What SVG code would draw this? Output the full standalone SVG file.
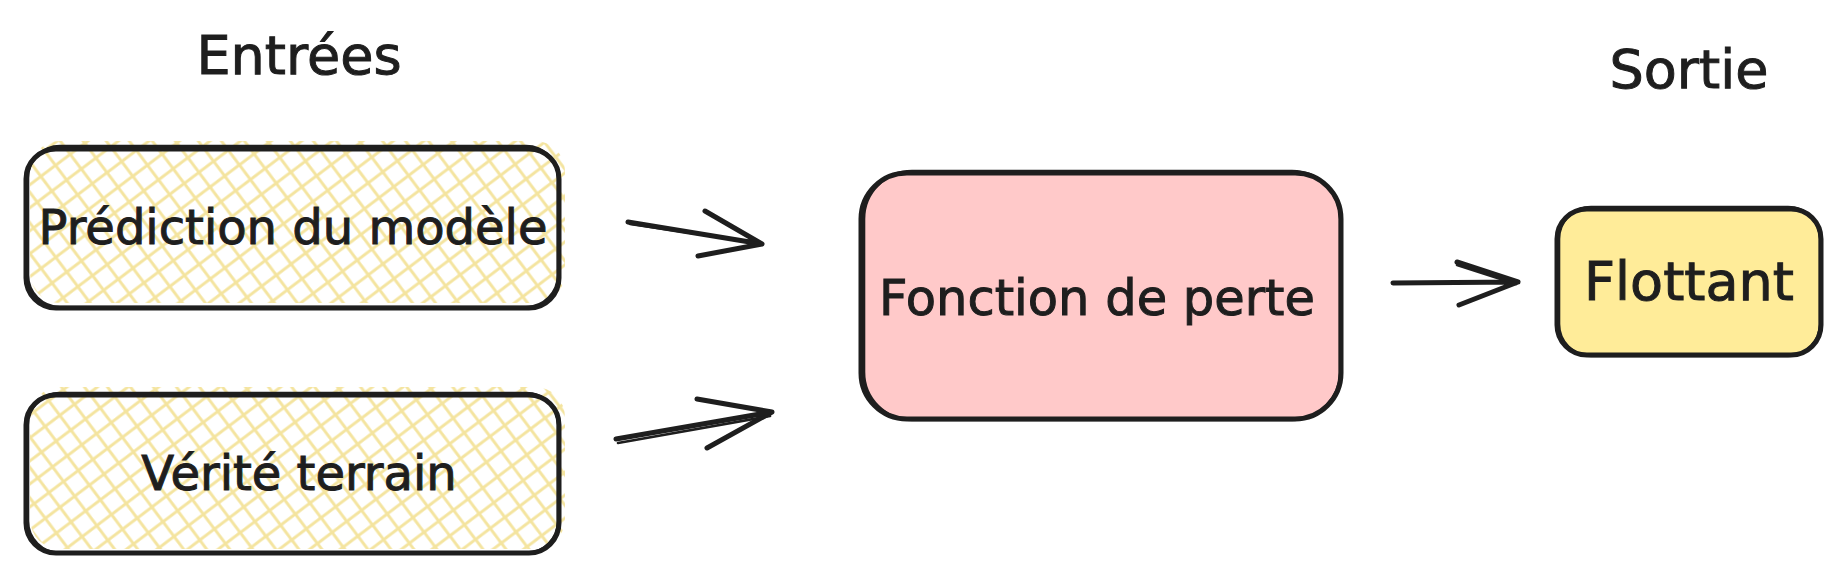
<svg xmlns="http://www.w3.org/2000/svg" width="1836" height="576" viewBox="0 0 1836 576">
<defs>
<pattern id="hatch" width="26" height="26" patternUnits="userSpaceOnUse" patternTransform="rotate(8)">
<path d="M-3,-3 L29,29 M29,-3 L-3,29" stroke="#f2df8e" stroke-width="3" fill="none" opacity="0.85"/>
</pattern>
<style>
.lbl{font-family:"DejaVu Sans","Liberation Sans",sans-serif;font-size:48px;fill:#1e1e1e;text-anchor:middle;dominant-baseline:central;stroke:#1e1e1e;stroke-width:1}
.head{font-size:54px}
.edge{fill:none;stroke:#1e1e1e;stroke-width:5;stroke-linecap:round;stroke-linejoin:round}
.thin{fill:none;stroke:#1e1e1e;stroke-width:2.6;stroke-linecap:round}
</style>
</defs>
<rect width="1836" height="576" fill="#ffffff"/>
<g id="title-entrees"><text class="lbl head" x="299" y="55">Entrées</text></g>
<g id="title-sortie"><text class="lbl head" x="1689" y="69">Sortie</text></g>
<g id="node-prediction">
<rect x="30" y="141" width="535" height="162" rx="30" fill="url(#hatch)"/>
<rect x="26" y="149" width="533" height="159" rx="30" class="edge"/>
<rect x="28" y="146" width="530" height="161" rx="32" class="thin"/>
<text class="lbl" x="293" y="227">Prédiction du modèle</text>
</g>
<g id="node-verite">
<rect x="30" y="387" width="535" height="162" rx="30" fill="url(#hatch)"/>
<rect x="26" y="395" width="533" height="158" rx="30" class="edge"/>
<rect x="28" y="393" width="530" height="160" rx="32" class="thin"/>
<text class="lbl" x="299" y="473">Vérité terrain</text>
</g>
<g id="node-fonction">
<rect x="861" y="173" width="480" height="246" rx="46" fill="#ffc9c9"/>
<rect x="861" y="173" width="480" height="246" rx="46" class="edge"/>
<rect x="864" y="171" width="476" height="249" rx="48" class="thin"/>
<text class="lbl" x="1097" y="298" style="font-size:49.5px">Fonction de perte</text>
</g>
<g id="node-flottant">
<rect x="1557" y="209" width="264" height="146" rx="30" fill="#ffec99"/>
<rect x="1557" y="209" width="264" height="146" rx="30" class="edge"/>
<rect x="1559" y="207" width="261" height="149" rx="32" class="thin"/>
<text class="lbl" x="1689" y="281" style="font-size:54px">Flottant</text>
</g>
<g id="connectors">
<path class="edge" d="M628,222 L762,244 M705,211 L762,244 L698,256"/>
<path class="thin" d="M630,224 L758,243"/>
<path class="edge" d="M616,439 L772,412 M697,399 L772,412 L707,448"/>
<path class="thin" d="M618,443 L770,416"/>
<path class="edge" d="M1393,283 L1518,282 M1457,262 L1518,282 L1459,305"/>
<path class="thin" d="M1457,265 L1516,284"/>
</g>
</svg>
